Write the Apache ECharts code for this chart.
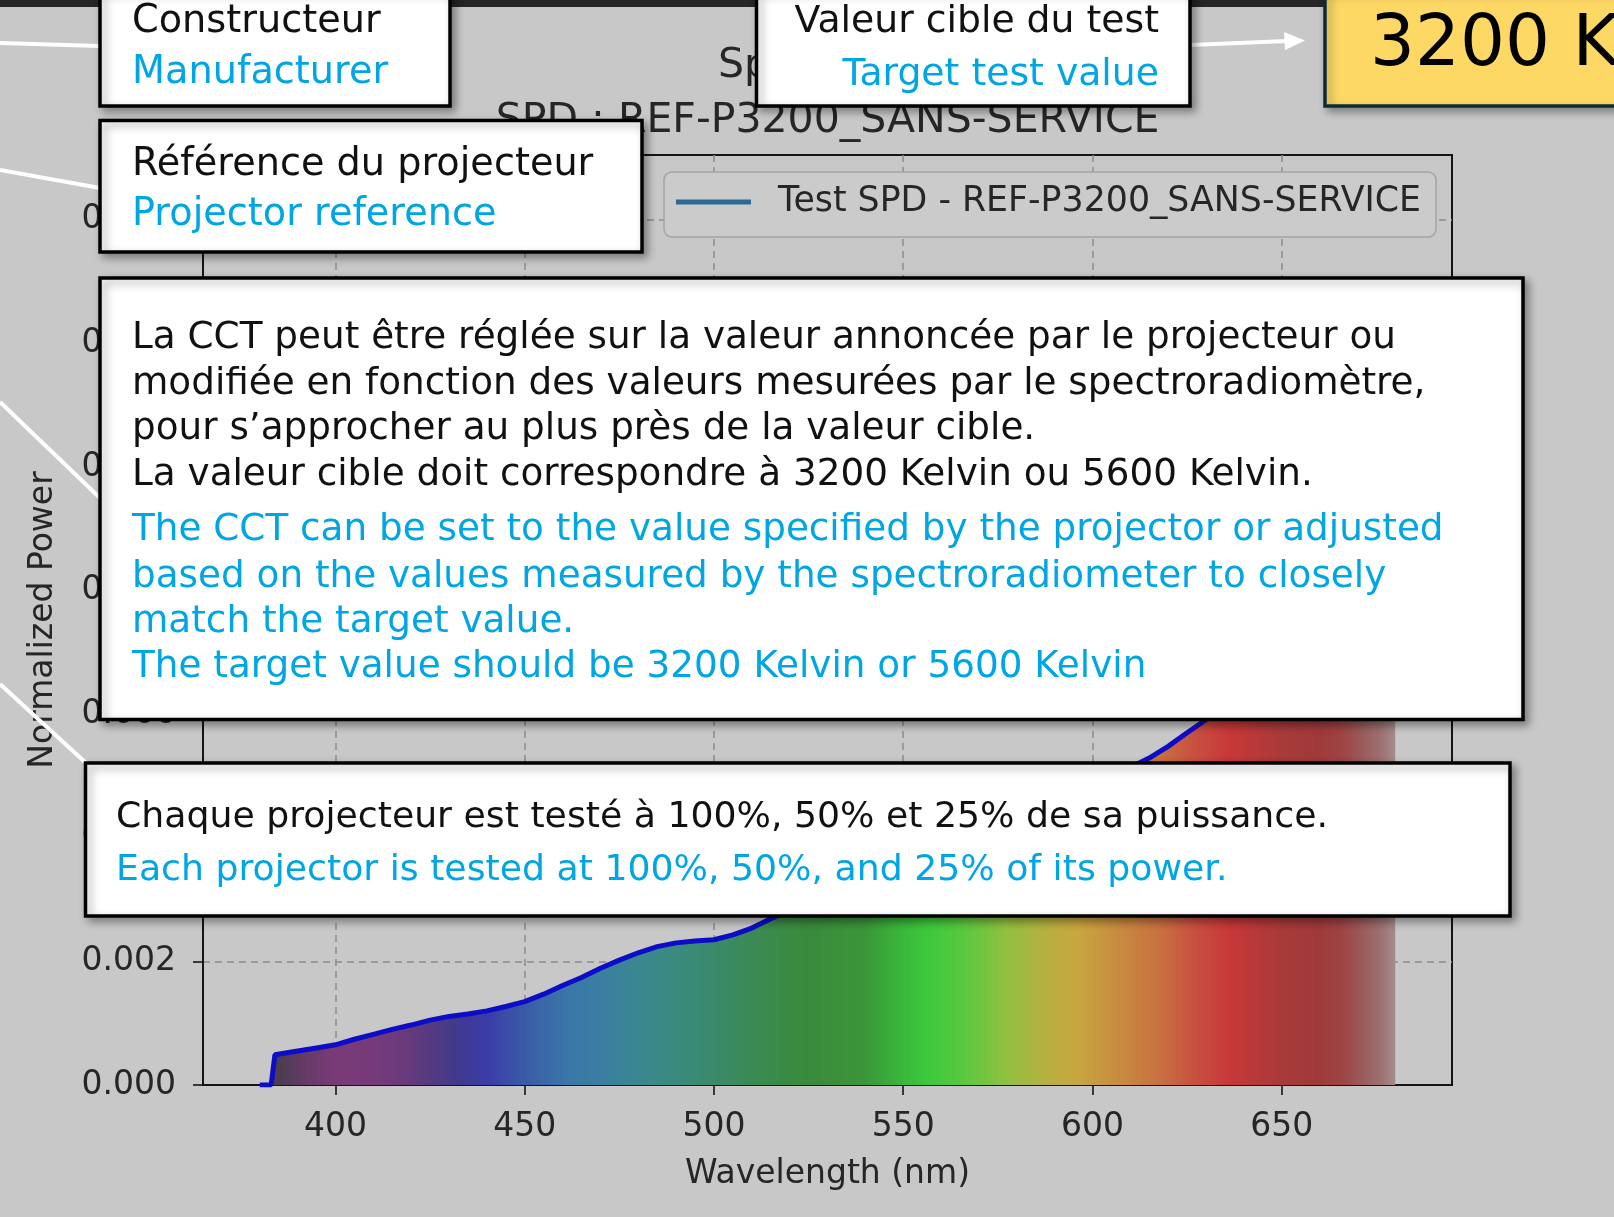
<!DOCTYPE html>
<html><head><meta charset="utf-8">
<script src="https://cdn.jsdelivr.net/npm/echarts@6/dist/echarts.min.js"></script>
<style>html,body{margin:0;padding:0;background:#c8c8c8;overflow:hidden}#c{width:1614px;height:1217px}</style>
</head><body><div id="c"></div>
<script>
// ---------- data ----------
const wavelengths = [380,383,384,390,395,400,405,410,415,420,425,430,435,440,445,450,455,460,465,470,475,480,485,490,495,500,505,510,515,520,525,530,535,540,545,550,555,560,565,570,575,580,585,590,595,600,605,610,615,620,625,630,635,640,645,650,655,660,665,670,675,680];
const power = [0,0,0.00049,0.00055,0.00060,0.00065,0.00074,0.00082,0.00090,0.00097,0.00105,0.00111,0.00115,0.00120,0.00127,0.00135,0.00147,0.00161,0.00174,0.00189,0.00202,0.00214,0.00224,0.00230,0.00233,0.00235,0.00243,0.00254,0.00269,0.00282,0.00298,0.00315,0.00332,0.00348,0.00364,0.00378,0.00392,0.00405,0.00418,0.00430,0.00441,0.00452,0.00462,0.00472,0.00483,0.00493,0.00503,0.00514,0.00529,0.00548,0.00570,0.00591,0.00610,0.00627,0.00642,0.00656,0.00668,0.00679,0.00689,0.00698,0.00706,0.00713];
const xTicks = [400,450,500,550,600,650];
const yTicks = [0,0.002,0.004,0.006,0.008,0.010,0.012,0.014];
const titleLines = ['Spectrum', 'SPD : REF-P3200_SANS-SERVICE'];
const seriesName = 'Test SPD - REF-P3200_SANS-SERVICE';
const xName = 'Wavelength (nm)';
const yName = 'Normalized Power';
const boxManufacturer = ['Constructeur', 'Manufacturer'];
const boxReference = ['Référence du projecteur', 'Projector reference'];
const boxTarget = ['Valeur cible du test', 'Target test value'];
const targetValue = '3200 K';
const boxCctFr = ['La CCT peut être réglée sur la valeur annoncée par le projecteur ou',
  'modifiée en fonction des valeurs mesurées par le spectroradiomètre,',
  'pour s’approcher au plus près de la valeur cible.',
  'La valeur cible doit correspondre à 3200 Kelvin ou 5600 Kelvin.'];
const boxCctEn = ['The CCT can be set to the value specified by the projector or adjusted',
  'based on the values measured by the spectroradiometer to closely',
  'match the target value.',
  'The target value should be 3200 Kelvin or 5600 Kelvin'];
const boxPower = ['Chaque projecteur est testé à 100%, 50% et 25% de sa puissance.',
  'Each projector is tested at 100%, 50%, and 25% of its power.'];

// spectrum fill colours (wavelength -> colour)
const specWl = [380,386,392,400,410,418,425,432,440,447,455,462,470,478,486,495,505,515,525,540,548,556,566,577,588,596,605,618,627,636,650,660,666,671,676,680];
const specCol = ['#4a3e4c','#4e3c52','#663a68','#7a3a78','#763a7a','#6a3a7c','#553a80','#403a8c','#3a3ca8','#3a52a8','#3a68a8','#3a78a8','#3a7ea2','#3a8694','#3a8a86','#3a8a76','#3a8a60','#3a8a4c','#3a8a3c','#3a963a','#3ab23a','#3cc83c','#5ac840','#90c040','#b8b040','#c8a640','#c89040','#c87040','#c85040','#c83838','#a83a3a','#a03a3a','#9e4444','#9a5a5a','#9c7070','#a48c8c'];

// ---------- helpers ----------
const FAM = "'DejaVu Sans'";
const mctx = document.createElement('canvas').getContext('2d');
function textW(t, size) { mctx.font = size + 'px ' + FAM; return mctx.measureText(t).width; }
function fit(pairs) { let s = 0; pairs.forEach(p => { s += p[1] / textW(p[0], 100) * 100; }); return s / pairs.length; }

const fs1 = fit([[boxManufacturer[0],248],[boxManufacturer[1],257]]);
const fs2 = fit([[boxReference[0],461],[boxReference[1],365]]);
const fs3 = fit([[boxTarget[0],365],[boxTarget[1],316]]);
const fs5 = fit([[boxCctFr[0],1266],[boxCctEn[0],1312],[boxCctFr[3],1181],[boxCctEn[3],1013]]);
const fs6 = fit([[boxPower[0],1212],[boxPower[1],1112]]);
const fsY = fit([['3200',180]]);
const legFont = fit([[seriesName,643]]);

const BLACK = '#111', BLUE = '#00a6e3';
const shadow = {shadowBlur:8, shadowOffsetX:4, shadowOffsetY:4, shadowColor:'rgba(0,0,0,0.35)'};
function box(x,y,w,h,fill,stroke){ return {type:'rect', z:70, shape:{x:x,y:y,width:w,height:h}, style:Object.assign({fill:fill||'#fff', stroke:stroke||'#000', lineWidth:3.5}, shadow)}; }
function txt(t,x,y,size,color,align){ return {type:'text', z:80, x:x, y:y, style:{text:t, fill:color, font:size.toFixed(2)+'px '+FAM, align:align||'left', verticalAlign:'middle'}}; }
function wline(x1,y1,x2,y2){ return {type:'line', z:60, shape:{x1:x1,y1:y1,x2:x2,y2:y2}, style:{stroke:'#fff', lineWidth:4}}; }

const dy = 3.5;
const graphics = [
  {type:'rect', z:50, shape:{x:0,y:0,width:1614,height:7}, style:{fill:'#262626'}},
  // title (matplotlib style)
  {type:'text', z:55, x:718, y:66, style:{text:titleLines[0], fill:'#262626', font:'41px '+FAM, align:'left', verticalAlign:'middle'}},
  {type:'text', z:55, x:827.6, y:121, style:{text:titleLines[1], fill:'#262626', font:'41px '+FAM, align:'center', verticalAlign:'middle'}},
  wline(0,43,100,46), wline(0,170,100,188), wline(0,402,100,498), wline(0,684,86,763),
  wline(1190,45,1288,41),
  {type:'polygon', z:60, shape:{points:[[1284,32],[1305,40.5],[1285,50]]}, style:{fill:'#fff'}},
  box(100,-10,350,116), box(100,120.5,542,131.5), box(756.5,-10,433.5,116),
  box(1325,-10,300,116,'#fdd865','#0d2a3a'),
  box(100,278,1423,441.5), box(85.5,763,1424.5,153),
  txt(boxManufacturer[0],132,18.5+dy,fs1,BLACK), txt(boxManufacturer[1],132,70+dy,fs1,BLUE),
  txt(boxReference[0],132,161.6+dy,fs2,BLACK), txt(boxReference[1],132,212+dy,fs2,BLUE),
  txt(boxTarget[0],1159,18.5+dy,fs3,BLACK,'right'), txt(boxTarget[1],1159,72+dy,fs3,BLUE,'right'),
  txt(targetValue,1370,47,fsY,'#000'),
  txt(boxPower[0],116,814.2+dy,fs6,BLACK), txt(boxPower[1],116,866.7+dy,fs6,BLUE)
];
const y5 = [334.5,380.8,426.1,471.4,527,573.3,618.6,663.9];
boxCctFr.forEach((t,i)=>graphics.push(txt(t,132,y5[i]+dy,fs5,BLACK)));
boxCctEn.forEach((t,i)=>graphics.push(txt(t,132,y5[i+4]+dy,fs5,BLUE)));

// legend sizing
const legText = '  ' + seriesName;
const legContent = 75 + 5 + textW(legText, legFont);
const legPadR = Math.max(4, 772 - 12 - legContent);

const stops = specWl.map((w,i)=>({offset:(w-380)/300, color:specCol[i]}));
const axisFont = {fontFamily:'DejaVu Sans', fontSize:33, color:'#262626'};

const chart = echarts.init(document.getElementById('c'));
chart.setOption({
  backgroundColor:'#c8c8c8',
  animation:false,
  grid:{left:203, right:162, top:155, bottom:132, show:true, borderColor:'#151515', borderWidth:2, backgroundColor:'transparent'},
  legend:{
    left:664, top:172, padding:[10, legPadR, 15, 12], itemWidth:75, itemHeight:5, icon:'rect',
    backgroundColor:'#cbcbcb', borderColor:'#a4a4a4', borderWidth:1.5, borderRadius:8,
    formatter: n => '  ' + n,
    textStyle:{fontFamily:'DejaVu Sans', fontSize:legFont, color:'#262626', lineHeight:40},
    data:[{name:seriesName, itemStyle:{color:'#2b6a96'}}]
  },
  xAxis:{
    type:'value', min:365, max:695,
    name:xName, nameLocation:'middle', nameGap:73, nameTextStyle:axisFont,
    axisLine:{show:true, onZero:false, lineStyle:{color:'#151515', width:2}},
    axisTick:{show:true, length:10, customValues:xTicks, lineStyle:{color:'#151515', width:1.6}},
    axisLabel:{customValues:xTicks, margin:26, fontFamily:'DejaVu Sans', fontSize:33, color:'#262626'},
    splitLine:{show:true, lineStyle:{type:[7,5], color:'#8c8c8c', width:1.5}}
  },
  yAxis:{
    type:'value', min:0, max:0.01505,
    name:yName, nameLocation:'middle', nameGap:143, nameTextStyle:axisFont,
    axisLine:{show:true, lineStyle:{color:'#151515', width:2}},
    axisTick:{show:true, length:10, customValues:yTicks, lineStyle:{color:'#151515', width:1.6}},
    axisLabel:{customValues:yTicks, margin:27, fontFamily:'DejaVu Sans', fontSize:33, color:'#262626', formatter:v=>v.toFixed(3)},
    splitLine:{show:true, lineStyle:{type:[7,5], color:'#8c8c8c', width:1.5}}
  },
  series:[{
    type:'line', name:seriesName, symbol:'none', z:3,
    data: wavelengths.map((w,i)=>[w, power[i]]),
    lineStyle:{color:'#0d0dc8', width:5},
    itemStyle:{color:'#2b6a96'},
    areaStyle:{color:new echarts.graphic.LinearGradient(0,0,1,0,stops), opacity:1}
  }],
  graphic:{elements:graphics}
});
</script>
</body></html>
